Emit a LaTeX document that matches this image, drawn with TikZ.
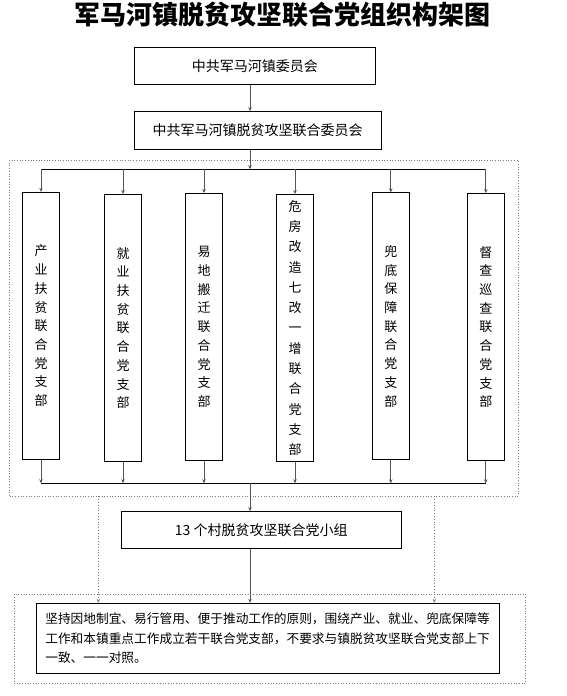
\documentclass[tikz,border=0pt]{standalone}
\usepackage{fontspec}
\setmainfont{Noto Sans CJK SC}
\usetikzlibrary{arrows.meta, positioning}
\definecolor{linegray}{RGB}{85, 85, 85}
\definecolor{dotgray}{RGB}{125, 125, 125}
\tikzset{
  orgbox/.style={rectangle, draw=black, line width=0.9pt, inner sep=0pt, align=center, font=\fontsize{14}{16}\selectfont},
  branchbox/.style={rectangle, draw=black, line width=0.9pt, minimum width=37pt, minimum height=267pt, inner sep=0pt, align=center, font=\fontsize{13}{18.7}\selectfont},
  groupframe/.style={rectangle, draw=dotgray, dotted, line width=0.7pt, inner sep=0pt},
  busline/.style={draw=black, line width=0.8pt},
  feed/.style={draw=linegray, line width=0.8pt, -{Stealth[length=4pt, width=3.5pt]}},
  dotfeed/.style={draw=dotgray, dotted, line width=0.8pt, -{Stealth[length=4pt, width=3.5pt]}}
}

\begin{document}
\begin{tikzpicture}[x=1pt, y=-1pt]
    \useasboundingbox (0,0) rectangle (567,696);

    % Title
    \node[font=\fontsize{26}{28}\selectfont\bfseries] (title) at (282.5, 15) {军马河镇脱贫攻坚联合党组织构架图};

    % Town committees
    \node[orgbox, minimum width=241pt, minimum height=37pt] (town) at (254.8, 65.8) {中共军马河镇委员会};
    \node[orgbox, minimum width=246.7pt, minimum height=37.6pt] (joint) at (257.6, 130.5) {中共军马河镇脱贫攻坚联合委员会};

    % Helper coordinates (spine and bus lines)
    \coordinate (spine) at (250, 0);
    \coordinate (bustop) at (0, 169.3);
    \coordinate (busbot) at (0, 483.3);
    \coordinate (lside) at (98.3, 0);
    \coordinate (rside) at (434.3, 0);

    % Dotted frame round the branches
    \node[groupframe, minimum width=508.3pt, minimum height=336pt] (grp) at (263.9, 328) {};

    % Six joint party branches
    \node[branchbox] (b1) at (41, 325.8) {产\\业\\扶\\贫\\联\\合\\党\\支\\部};
    \node[branchbox] (b2) at (123, 328) {就\\业\\扶\\贫\\联\\合\\党\\支\\部};
    \node[branchbox] (b3) at (204, 327) {易\\地\\搬\\迁\\联\\合\\党\\支\\部};
    \node[branchbox, font=\fontsize{13}{20.3}\selectfont] (b4) at (295, 328) {危\\房\\改\\造\\七\\改\\一\\增\\联\\合\\党\\支\\部};
    \node[branchbox] (b5) at (390.8, 326.3) {兜\\底\\保\\障\\联\\合\\党\\支\\部};
    \node[branchbox] (b6) at (485.8, 327) {督\\查\\巡\\查\\联\\合\\党\\支\\部};

    % Village groups and note
    \node[orgbox, minimum width=280.3pt, minimum height=36.6pt] (village) at (261.2, 530) {13 个村脱贫攻坚联合党小组};
    \node[groupframe, minimum width=511.3pt, minimum height=89.3pt] (notegrp) at (269.7, 638.5) {};
    \node[orgbox, minimum width=463pt, minimum height=70pt, text width=445pt, align=left, font=\fontsize{12.7}{19.5}\selectfont] (note) at (267.8, 638.3) {坚持因地制宜、易行管用、便于推动工作的原则，围绕产业、就业、兜底保障等\\工作和本镇重点工作成立若干联合党支部，不要求与镇脱贫攻坚联合党支部上下\\一致、一一对照。};

    % Connectors
    \draw[feed] (town.south -| spine) -- (joint.north -| spine);
    \draw[feed] (joint.south -| spine) -- (spine |- bustop);
    \draw[busline] (b1.north |- bustop) -- (b6.north |- bustop);
    \draw[busline] (b1.south |- busbot) -- (b6.south |- busbot);
    \draw[feed] (b1.north |- bustop) -- (b1.north);
    \draw[feed] (b2.north |- bustop) -- (b2.north);
    \draw[feed] (b3.north |- bustop) -- (b3.north);
    \draw[feed] (b4.north |- bustop) -- (b4.north);
    \draw[feed] (b5.north |- bustop) -- (b5.north);
    \draw[feed] (b6.north |- bustop) -- (b6.north);
    \draw[feed] (b1.south) -- (b1.south |- busbot);
    \draw[feed] (b2.south) -- (b2.south |- busbot);
    \draw[feed] (b3.south) -- (b3.south |- busbot);
    \draw[feed] (b4.south) -- (b4.south |- busbot);
    \draw[feed] (b5.south) -- (b5.south |- busbot);
    \draw[feed] (b6.south) -- (b6.south |- busbot);
    \draw[feed] (spine |- busbot) -- (village.north -| spine);
    \draw[feed] (village.south -| spine) -- (note.north -| spine);
    \draw[dotfeed] (grp.south -| lside) -- (note.north -| lside);
    \draw[dotfeed] (grp.south -| rside) -- (note.north -| rside);
\end{tikzpicture}
\end{document}
